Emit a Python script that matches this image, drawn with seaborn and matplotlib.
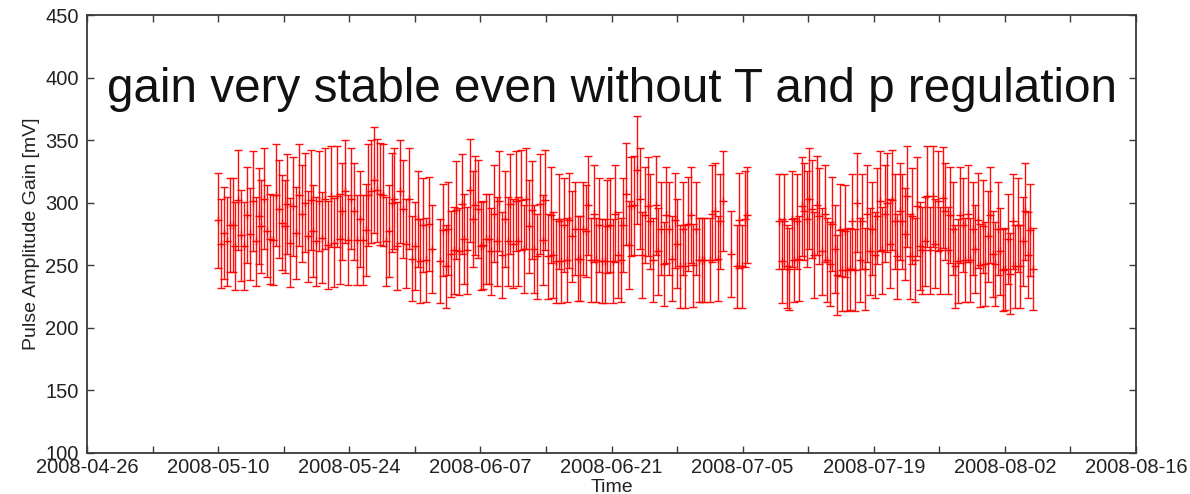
import numpy as np
import pandas as pd
import matplotlib
matplotlib.use("Agg")
import matplotlib.pyplot as plt
import seaborn as sns

# ---------------- data ----------------
# segment A: 2008-05-10 00:00 -> 2008-06-01 20:00
seg_a_start, seg_a_end = "2008-05-10 00:00", "2008-06-01 20:00"
gain_a = [286, 267, 276, 269, 282, 282, 265, 302, 274, 265, 290, 275, 301, 269, 289, 281,
          303, 277, 271, 270, 306, 295, 284, 281, 299, 268, 297, 276, 306, 291, 300, 273,
          302, 277, 269, 301, 272, 303, 266, 305, 268, 305,
          271, 293, 309, 270, 303, 293, 270, 287, 270, 278, 306, 309, 318, 310, 307, 306,
          269, 277, 300, 303, 265, 309, 295, 267, 303, 255, 265, 287, 253, 282, 254, 283, 263]

# segment B: 2008-06-02 17:00 -> 2008-07-05 12:00 (nan = missing measurement)
seg_b_start, seg_b_end = "2008-06-02 17:00", "2008-07-05 12:00"
gain_b = [253, 278, 249, 279, 259, 262, 294, 261, 299, 271, 262, 310, 287,
          298, 295, 265, 266, 271, 271, 261, 291, 269, 301, 258, 287, 269, 299, 267, 301,
          269, 302, 263, 303, 281, 294, 263, 257, 299, 270, 302, 257, 290, 258, 253, 285,
          253, 282, 254, 286, 273, 279, 255, 255, 279, 277, 298, 254, 291, 254, 282, 253,
          253, 281,
          282, 253, 291, 258, 254, 282, 307, 266, 297, 298, 326, 303, 258, 290, 297, 285,
          254, 298, 261, 279, 251, 290, 279, 255, 286, 267, 249, 279, 249, 283, 290, 250,
          279, 254, 254, 254, np.nan, 254, 291, 293, 255, 285, 301, np.nan, np.nan, 259,
          np.nan, 249, 286, 249, 287, 290]

# segment C: 2008-07-08 22:00 -> 2008-08-05 00:00
seg_c_start, seg_c_end = "2008-07-08 22:00", "2008-08-05 00:00"
gain_c = [285, 253, 285, 249, 247, 287, 254, 285, 255, 297, 293, 287, 303, 295, 258, 298,
          289, 261, 291, 254, 251, 283, 263, 242, 278, 246, 277, 246, 247, 285, 246, 300,
          254, 285, 247, 291, 261, 279, 258, 289, 301, 262, 291, 300, 267, 302, 285, 257, 293,
          285, 275, 305, 257, 289, 254, 297, 265, 262, 269, 305, 262, 305, 267, 301, 262,
          304, 293, 262, 290, 279, 249, 253, 290, 282, 254, 291, 254, 279, 263, 286, 250,
          281, 251, 273, 290, 259, 251, 279, 261, 246, 247, 271, 243, 285, 249, 282, 249,
          269, 293, 258, 278, 247]

rel_err = 0.133  # error bars are about +-13 % of the gain

xtick_dates = ["2008-04-26", "2008-05-03", "2008-05-10", "2008-05-17", "2008-05-24",
               "2008-05-31", "2008-06-07", "2008-06-14", "2008-06-21", "2008-06-28",
               "2008-07-05", "2008-07-12", "2008-07-19", "2008-07-26", "2008-08-02",
               "2008-08-09", "2008-08-16"]
xtick_labels = ["2008-04-26", "", "2008-05-10", "", "2008-05-24", "", "2008-06-07", "",
                "2008-06-21", "", "2008-07-05", "", "2008-07-19", "", "2008-08-02", "",
                "2008-08-16"]
yticks = [100, 150, 200, 250, 300, 350, 400, 450]

title_text = "gain very stable even without T and p regulation"

# ---------------- build frame ----------------
parts = []
for s, e, g in [(seg_a_start, seg_a_end, gain_a),
                (seg_b_start, seg_b_end, gain_b),
                (seg_c_start, seg_c_end, gain_c)]:
    t = pd.date_range(s, e, periods=len(g))
    parts.append(pd.DataFrame({"time": t, "gain": g}))
df = pd.concat(parts, ignore_index=True).dropna()
df["err"] = df["gain"] * rel_err

# ---------------- plot ----------------
sns.set_theme(style="ticks")
plt.rcParams["font.family"] = ["Liberation Sans", "DejaVu Sans"]

fig = plt.figure(figsize=(11.9, 4.94), dpi=100)
ax = fig.add_axes([87 / 1190, 1 - 452.7 / 494, (1136 - 87) / 1190, (452.7 - 15) / 494])

ax.errorbar(df["time"], df["gain"], yerr=df["err"], fmt="none", ecolor="#ff0000",
            elinewidth=1.0, capsize=2.6, capthick=1.0, alpha=0.95)
sns.scatterplot(data=df, x="time", y="gain", marker="+", color="#ff0000", s=28,
                linewidth=1.0, ax=ax, legend=False, zorder=3)

xt = pd.to_datetime(xtick_dates)
ax.set_xlim(xt[0], xt[-1])
ax.set_ylim(100, 450)
ax.set_xticks(xt)
ax.set_xticklabels(xtick_labels)
ax.set_yticks(yticks)
ax.set_yticklabels([str(v) for v in yticks])

frame_col = "#3a3a3a"
for sp in ax.spines.values():
    sp.set_visible(True)
    sp.set_color(frame_col)
    sp.set_linewidth(1.3)
ax.tick_params(axis="both", which="major", direction="in", length=5, width=1.0,
               color=frame_col, top=True, right=True, labelsize=14.5,
               labelcolor="#222222", pad=4)
ax.tick_params(axis="x", pad=4)
ax.tick_params(axis="y", pad=6)

ax.set_xlabel("Time", fontsize=14, color="#222222", labelpad=1)
ax.set_ylabel("Pulse Amplitude Gain [mV]", fontsize=14, color="#222222", labelpad=4)
ax.grid(False)
ax.set_facecolor("white")

fig.text(612.5 / 1190, 1 - 102 / 494, title_text, fontsize=34.3, color="#111111",
         ha="center", va="baseline")

fig.savefig("out.png", dpi=100, facecolor="white")
